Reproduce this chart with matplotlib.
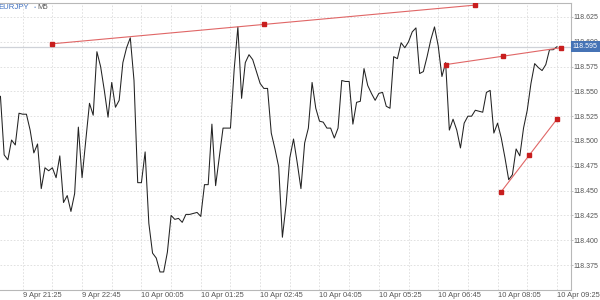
import matplotlib
matplotlib.use('Agg')
from matplotlib import pyplot as plt
import matplotlib.transforms as mtransforms
import numpy as np
import pandas as pd

plt.rcParams['font.family'] = ['Liberation Sans', 'DejaVu Sans']

# EURJPY M5 closes, first bar 9 Apr 20:55
start_time = '2024-04-09 20:55'
closes = [
	118.545, 118.486, 118.481, 118.501, 118.496, 118.528, 118.527, 118.527, 118.511, 118.488,
	118.497, 118.452, 118.473, 118.470, 118.473, 118.463, 118.485, 118.438, 118.445, 118.429,
	118.447, 118.514, 118.463, 118.501, 118.538, 118.526, 118.590, 118.575, 118.551, 118.524,
	118.559, 118.534, 118.541, 118.579, 118.594, 118.604, 118.561, 118.458, 118.458, 118.489,
	118.417, 118.387, 118.382, 118.368, 118.368, 118.388, 118.425, 118.421, 118.422, 118.418,
	118.426, 118.426, 118.427, 118.428, 118.424, 118.456, 118.456, 118.517, 118.455, 118.484,
	118.513, 118.513, 118.513, 118.572, 118.615, 118.543, 118.579, 118.587, 118.582, 118.570,
	118.558, 118.553, 118.553, 118.508, 118.492, 118.474, 118.403, 118.436, 118.483, 118.502,
	118.478, 118.452, 118.498, 118.513, 118.559, 118.533, 118.520, 118.519, 118.513, 118.513,
	118.503, 118.513, 118.561, 118.560, 118.560, 118.517, 118.539, 118.540, 118.573, 118.556,
	118.548, 118.541, 118.548, 118.549, 118.535, 118.533, 118.585, 118.583, 118.599, 118.594,
	118.600, 118.610, 118.614, 118.568, 118.570, 118.585, 118.602, 118.615, 118.596, 118.565,
	118.579, 118.511, 118.522, 118.511, 118.493, 118.518, 118.525, 118.525, 118.531, 118.530,
	118.529, 118.549, 118.551, 118.508, 118.518, 118.503, 118.483, 118.461, 118.466, 118.492,
	118.485, 118.513, 118.531, 118.558, 118.578, 118.574, 118.571, 118.577, 118.592, 118.592,
	118.595,
]
bid = 118.595

# trend lines: (bar, price) of the two ends
trend_bars = [[14, 128], [120, 151], [135, 150]]
trend_prices = [[118.598, 118.637], [118.577, 118.594], [118.449, 118.522]]

price_ticks = [118.375, 118.400, 118.425, 118.450, 118.475, 118.500,
	118.525, 118.550, 118.575, 118.600, 118.625]

times = pd.date_range(start_time, periods=len(closes), freq='5min')
bars = np.arange(len(closes))

fig = plt.figure(figsize=(6, 3), dpi=100)
ax = fig.add_axes([0, 0.0333, 0.9517, 0.9567])

frame_col = '#b8b8b8'
grid_col = '#dcdcdc'

# grid
for p in price_ticks:
	ax.axhline(p, color=grid_col, lw=0.6, ls=(0, (2, 2)), zorder=0)
for b in range(6, len(closes) + 4, 8):
	ax.axvline(b, color=grid_col, lw=0.6, ls=(0, (2, 2)), zorder=0)

# bid line
ax.axhline(bid, color='#cfd2d8', lw=0.9, zorder=1)

ax.plot(bars, closes, color='#222222', lw=0.75, zorder=3)

for tb, tp in zip(trend_bars, trend_prices):
	xs = [tb[0], np.mean(tb), tb[1]]
	ys = [tp[0], np.mean(tp), tp[1]]
	ax.plot(xs, ys, color='#e06666', lw=0.8, zorder=4)
	ax.plot(xs, ys, ls='none', marker='s', ms=2.4, color='#c81e1e', zorder=5)

ax.set_xlim(-0.12, 153.8)
ax.set_ylim(118.3498, 118.6391)

ax.yaxis.tick_right()
ax.set_yticks(price_ticks)
ax.set_yticklabels(['%.3f' % p for p in price_ticks])
ax.tick_params(axis='y', length=1.5, width=0.6, color=frame_col, pad=0.5,
	labelsize=5, labelcolor='#555555')

label_bars = list(range(6, len(closes), 16))
ax.set_xticks(label_bars)
ax.set_xticklabels([f'{times[b].day} {times[b]:%b %H:%M}' for b in label_bars], ha='left')
ax.tick_params(axis='x', length=0, pad=1.5, labelsize=5.4, labelcolor='#555555')

for side in ['top', 'right', 'bottom']:
	ax.spines[side].set_color(frame_col)
	ax.spines[side].set_linewidth(0.8)
ax.spines['left'].set_visible(False)

# current price tag
trans = mtransforms.blended_transform_factory(ax.transAxes, ax.transData)
ax.text(1.003, bid, '%.3f' % bid, transform=trans, ha='left', va='center',
	fontsize=5, color='white', zorder=10, clip_on=False,
	bbox=dict(boxstyle='square,pad=0.3', fc='#4673b5', ec='none'))

fig.text(-0.003, 0.975, 'EURJPY', color='#3f70c0', fontsize=5.6, va='center', ha='left')
fig.text(0.056, 0.975, '•', color='#8aa8d8', fontsize=4.5, va='center', ha='left')
fig.text(0.0625, 0.975, 'M5', color='#555555', fontsize=5.6, va='center', ha='left')

fig.savefig('out.png', dpi=100)
